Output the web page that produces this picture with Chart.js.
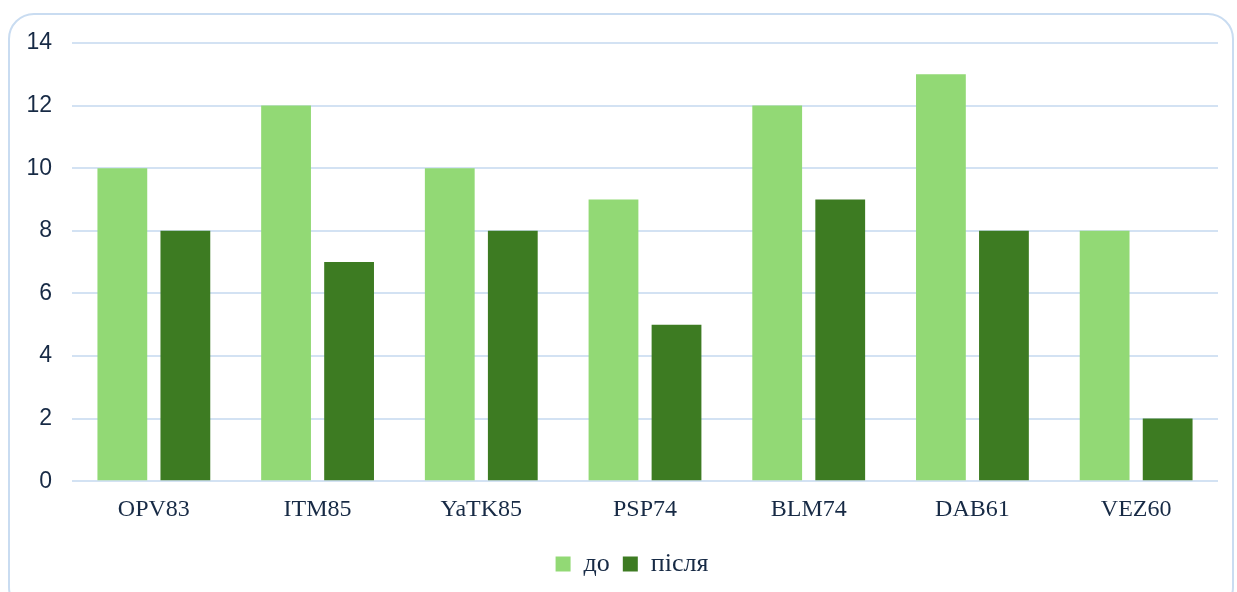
<!DOCTYPE html>
<html>
<head>
<meta charset="utf-8">
<script src="https://cdn.jsdelivr.net/npm/chart.js@4/dist/chart.umd.min.js"></script>
<style>
  html, body { margin: 0; padding: 0; background: #ffffff; }
  #wrap { position: relative; width: 1237px; height: 592px; overflow: hidden; }
  #frame {
    position: absolute; left: 8px; top: 13px; width: 1226px; height: 600px;
    border: 2px solid #c9dcf1; border-radius: 26px; box-sizing: border-box;
  }
  canvas { position: absolute; left: 0; top: 0; }
</style>
</head>
<body>
<div id="wrap">
  <div id="frame"></div>
  <canvas id="chart" width="1237" height="592"></canvas>
</div>
<script>
// Categories and the two measured series (before / after)
const categories = ["OPV83", "ITM85", "YaTK85", "PSP74", "BLM74", "DAB61", "VEZ60"];
const valuesBefore = [10, 12, 10, 9, 12, 13, 8];
const valuesAfter = [8, 7, 8, 5, 9, 8, 2];
const seriesNames = ["до", "після"];
const yTicks = [0, 2, 4, 6, 8, 10, 12, 14];

const textColor = "#172a45";
const gridColor = "#d3e2f3";

// Centre the legend roughly under the plot area rather than the whole canvas
const legendShift = {
  id: "legendShift",
  afterLayout(chart) {
    const lg = chart.legend;
    if (!lg) return;
    const target = (chart.chartArea.left + chart.chartArea.right) / 2 - 13;
    const dx = target - (lg.left + lg.right) / 2;
    lg.left += dx;
    lg.right += dx;
  }
};

new Chart(document.getElementById("chart"), {
  type: "bar",
  data: {
    labels: categories,
    datasets: [
      { label: seriesNames[0], data: valuesBefore, backgroundColor: "#92d975" },
      { label: seriesNames[1], data: valuesAfter, backgroundColor: "#3d7b22" }
    ]
  },
  plugins: [legendShift],
  options: {
    responsive: false,
    animation: false,
    devicePixelRatio: 1,
    layout: { padding: { left: 0, right: 19, top: 43, bottom: 5 } },
    datasets: { bar: { categoryPercentage: 0.77, barPercentage: 0.79 } },
    scales: {
      x: {
        grid: { display: false, drawTicks: false },
        border: { display: false },
        ticks: {
          padding: 14,
          color: textColor,
          font: { family: "'Liberation Serif', 'Times New Roman', serif", size: 24 }
        }
      },
      y: {
        min: yTicks[0],
        max: yTicks[yTicks.length - 1],
        afterBuildTicks: (scale) => { scale.ticks = yTicks.map(v => ({ value: v })); },
        afterFit: (scale) => { scale.width = 72; },
        grid: { color: gridColor, lineWidth: 2, drawTicks: false },
        border: { display: false },
        ticks: {
          padding: 20,
          color: textColor,
          font: { family: "'Liberation Sans', Arial, sans-serif", size: 23 }
        }
      }
    },
    plugins: {
      tooltip: { enabled: false },
      legend: {
        position: "bottom",
        labels: {
          boxWidth: 15,
          boxHeight: 15,
          padding: 13,
          color: textColor,
          font: { family: "'Liberation Serif', 'Times New Roman', serif", size: 26 }
        }
      }
    }
  }
});
</script>
</body>
</html>
